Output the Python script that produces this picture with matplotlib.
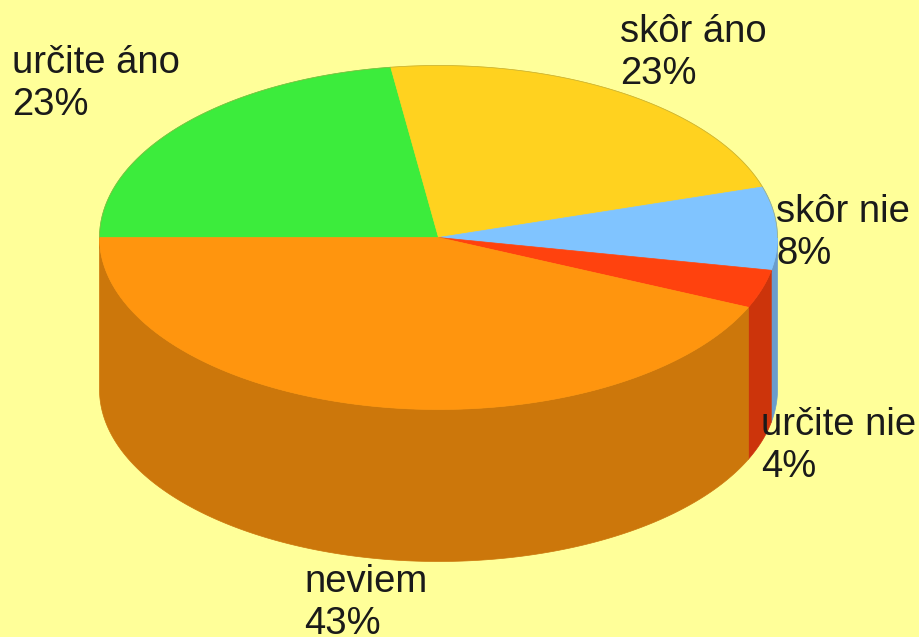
import numpy as np
import matplotlib
matplotlib.use("Agg")
import matplotlib.pyplot as plt
from matplotlib.patches import Polygon

# shares, the printed labels are rounded
labels = ["určite áno", "skôr áno", "skôr nie", "určite nie", "neviem"]
printed = ["23%", "23%", "8%", "4%", "43%"]
shares = [22.75, 22.5, 7.8, 3.6, 43.35]
top_colors = ["#3CEC3C", "#FFD21F", "#80C4FF", "#FF420E", "#FF950E"]
side_colors = ["#2FBC2F", "#CCA818", "#6A9CCC", "#CC340B", "#CC770B"]
label_pos = [(12, 73), (620, 42), (776, 222), (761, 435), (304, 592)]

bg = "#FFFF99"
cx, cy = 438.5, 237.5
rx, ry = 339, 172
depth = 152

plt.rcParams['font.family'] = ['Liberation Sans', 'DejaVu Sans']

fig = plt.figure(figsize=(9.2, 6.37), dpi=100, facecolor=bg)
ax = fig.add_axes([0, 0, 1, 1])
ax.set_xlim(0, 920)
ax.set_ylim(637, 0)
ax.axis('off')


def rim(a0, a1, dy=0):
    t = np.radians(np.linspace(a0, a1, 200))
    return np.column_stack([cx + rx * np.cos(t), cy + dy - ry * np.sin(t)])


# slices run clockwise from the left edge of the ellipse
edges = 180 - np.cumsum([0] + shares) * 3.6

# side walls first, only the part facing the viewer (angles 0 to -180)
for i in range(len(shares)):
    a0, a1 = min(edges[i], 0), max(edges[i + 1], -180)
    if a0 <= a1:
        continue
    wall = np.vstack([rim(a0, a1), rim(a1, a0, depth)])
    ax.add_patch(Polygon(wall, closed=True, fc=side_colors[i], ec=side_colors[i], lw=0.5, zorder=2))

# top of the pie
for i in range(len(shares)):
    pts = np.vstack([[cx, cy], rim(edges[i], edges[i + 1])])
    ax.add_patch(Polygon(pts, closed=True, fc=top_colors[i], ec=top_colors[i], lw=0.5, zorder=3))

# thin dark line along the back rim
back = rim(180, 0)
ax.plot(back[:, 0], back[:, 1], color="#A8A040", lw=0.5, alpha=0.7, zorder=4)

# labels, two lines each, placed by the baseline of the first line
for i in range(len(labels)):
    x, y = label_pos[i]
    ax.text(x, y, labels[i], fontsize=27.5, color="#1a1a1a", va='baseline', ha='left', zorder=5)
    ax.text(x, y + 42, printed[i], fontsize=27.5, color="#1a1a1a", va='baseline', ha='left', zorder=5)

fig.savefig("out.png", dpi=100, facecolor=bg)
